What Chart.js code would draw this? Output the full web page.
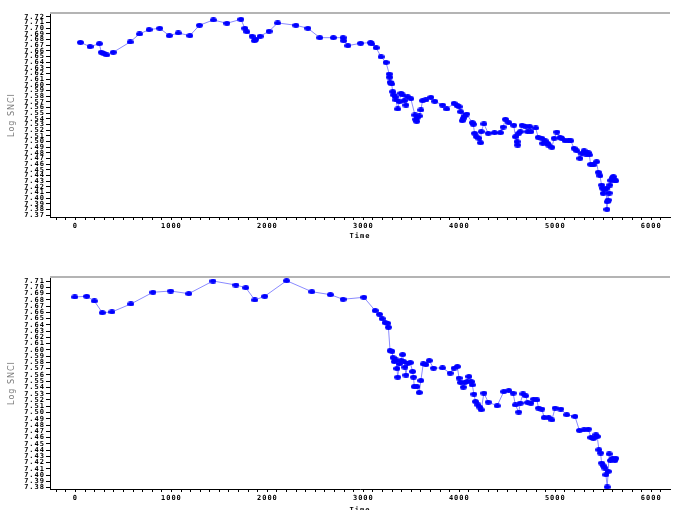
<!DOCTYPE html>
<html>
<head>
<meta charset="utf-8">
<script src="https://cdn.jsdelivr.net/npm/chart.js@4"></script>
<style>
html, body { margin: 0; padding: 0; background: #fff; overflow: hidden; }
#wrap { position: relative; width: 674px; height: 510px; }
canvas { position: absolute; left: 0; }
#topChart { top: 0; }
#bottomChart { top: 250px; }
</style>
</head>
<body>
<div id="wrap">
  <canvas id="topChart" width="674" height="250"></canvas>
  <canvas id="bottomChart" width="674" height="260"></canvas>
</div>
<script>
// Top panel: time / log value pairs
const topTime = [52,152,249,269,294,325,394,570,667,767,878,978,1071,1192,1292,1437,1578,1724,1765,1786,1841,1865,1879,1924,2017,2107,2297,2422,2546,2687,2788,2795,2839,2971,3075,3088,3133,3184,3236,3270,3274,3278,3295,3306,3316,3330,3340,3358,3375,3392,3409,3427,3444,3461,3495,3537,3547,3555,3565,3582,3599,3617,3651,3703,3744,3824,3868,3945,3979,3997,4014,4031,4041,4055,4076,4135,4145,4159,4179,4204,4221,4228,4256,4301,4366,4428,4456,4480,4515,4567,4584,4601,4608,4618,4635,4653,4687,4712,4733,4746,4795,4822,4860,4870,4894,4919,4930,4964,4988,5016,5050,5067,5101,5137,5161,5195,5223,5257,5275,5299,5319,5344,5354,5368,5396,5430,5448,5465,5482,5492,5499,5516,5534,5538,5541,5551,5561,5568,5578,5596,5605,5620,5630];
const topLog = [7.675,7.6675,7.6728,7.6576,7.6558,7.6528,7.6576,7.6758,7.690,7.6976,7.700,7.687,7.6917,7.687,7.7053,7.7147,7.7088,7.7159,7.700,7.694,7.6859,7.678,7.6806,7.6859,7.6947,7.7094,7.7053,7.700,7.6834,7.6834,7.6834,7.678,7.6693,7.6735,7.6746,7.6723,7.6657,7.6496,7.6397,7.6192,7.6134,7.6046,7.6016,7.588,7.5821,7.5791,7.5733,7.5574,7.5703,7.5851,7.5821,7.5722,7.5644,7.5791,7.5756,7.5468,7.5392,7.5355,7.5427,7.545,7.5556,7.5722,7.5733,7.578,7.571,7.5644,7.5574,7.5674,7.5627,7.5614,7.5526,7.5367,7.5409,7.545,7.5485,7.5333,7.5303,7.5144,7.5084,7.5056,7.4978,7.5173,7.5311,7.5144,7.5155,7.5155,7.5255,7.5392,7.5333,7.5286,7.5084,7.4996,7.4937,7.5144,7.5173,7.5286,7.5273,7.5173,7.5261,7.5173,7.5238,7.5073,7.5056,7.4967,7.5013,7.4967,7.4937,7.4896,7.5056,7.5167,7.5073,7.5056,7.5013,7.5013,7.5013,7.4879,7.4836,7.4702,7.4791,7.4836,7.4778,7.4801,7.4761,7.4596,7.4584,7.4642,7.4455,7.4395,7.423,7.4172,7.4083,7.4154,7.4172,7.380,7.3935,7.3965,7.4089,7.423,7.4312,7.4359,7.4377,7.4312,7.4306];

// Bottom panel
const bottomTime = [-7,117,197,280,380,577,808,992,1181,1433,1672,1775,1869,1972,2200,2463,2656,2788,3005,3123,3168,3195,3226,3254,3261,3278,3298,3309,3323,3340,3350,3358,3375,3392,3409,3420,3433,3444,3461,3489,3513,3523,3530,3558,3582,3599,3624,3651,3686,3731,3824,3904,3945,3979,3997,4014,4041,4055,4083,4100,4124,4135,4152,4169,4194,4214,4228,4256,4301,4394,4463,4515,4560,4584,4619,4635,4663,4691,4712,4746,4774,4808,4825,4860,4884,4930,4964,4998,5057,5119,5205,5251,5299,5344,5371,5396,5423,5437,5454,5472,5482,5499,5516,5527,5541,5551,5561,5575,5596,5620,5630];
const bottomLog = [7.6845,7.6856,7.6781,7.6594,7.6606,7.6733,7.692,7.694,7.6898,7.710,7.7036,7.6993,7.6797,7.6856,7.7105,7.6929,7.6882,7.6808,7.684,7.6627,7.6569,7.6499,7.6436,7.6425,7.6361,7.5988,7.5978,7.5877,7.5813,7.584,7.5702,7.5564,7.5776,7.5829,7.5925,7.5813,7.5724,7.5597,7.5787,7.5797,7.5654,7.5564,7.5414,7.5414,7.5319,7.551,7.5776,7.5765,7.5829,7.5708,7.5713,7.5628,7.5708,7.5734,7.5549,7.5478,7.5405,7.5478,7.5494,7.5574,7.5494,7.5441,7.5293,7.5175,7.5122,7.5085,7.5043,7.5309,7.5166,7.5107,7.5334,7.535,7.5309,7.5122,7.5006,7.5149,7.5298,7.5267,7.5159,7.5149,7.5213,7.5201,7.507,7.5055,7.4918,7.4918,7.4882,7.507,7.5055,7.4964,7.4936,7.4714,7.4724,7.4735,7.4601,7.4585,7.4644,7.4617,7.4405,7.4352,7.4193,7.415,7.4113,7.4006,7.381,7.4059,7.4339,7.4233,7.4268,7.4233,7.4268];

// Tick labels
const topYTicks = [7.37,7.38,7.39,7.40,7.41,7.42,7.43,7.44,7.45,7.46,7.47,7.48,7.49,7.50,7.51,7.52,7.53,7.54,7.55,7.56,7.57,7.58,7.59,7.60,7.61,7.62,7.63,7.64,7.65,7.66,7.67,7.68,7.69,7.70,7.71,7.72];
const bottomYTicks = [7.38,7.39,7.40,7.41,7.42,7.43,7.44,7.45,7.46,7.47,7.48,7.49,7.50,7.51,7.52,7.53,7.54,7.55,7.56,7.57,7.58,7.59,7.60,7.61,7.62,7.63,7.64,7.65,7.66,7.67,7.68,7.69,7.70,7.71];
const xLabels = [0,1000,2000,3000,4000,5000,6000];
const yTitle = 'Log SNCI';
const xTitle = 'Time';

Chart.defaults.font.family = '"DejaVu Sans Mono", monospace';
Chart.defaults.font.size = 7;
Chart.defaults.font.weight = 'bold';
Chart.defaults.color = '#000';

// blue oval marker
function dotImage() {
    const c = document.createElement('canvas');
    c.width = 7; c.height = 5;
    const g = c.getContext('2d');
    g.fillStyle = '#0000ff';
    g.beginPath();
    g.ellipse(3.5, 2.5, 3.5, 2.5, 0, 0, Math.PI * 2);
    g.fill();
    return c;
}
const dot = dotImage();

const framePlugin = {
    id: 'frame',
    beforeDraw(chart) {
        chart.ctx.letterSpacing = '1px';
    },
    afterDraw(chart) {
        const {ctx, chartArea} = chart;
        ctx.save();
        ctx.strokeStyle = '#b4b4b4';
        ctx.lineWidth = 2;
        ctx.beginPath();
        ctx.moveTo(chartArea.left, chartArea.top);
        ctx.lineTo(chartArea.right, chartArea.top);
        ctx.stroke();
        ctx.restore();
    }
};

function makeChart(id, times, values, yTicks, o) {
    const points = times.map((t, i) => ({x: t, y: values[i]}));
    return new Chart(document.getElementById(id), {
        type: 'scatter',
        data: {
            datasets: [{
                data: points,
                showLine: true,
                borderColor: '#8a8aff',
                borderWidth: 1,
                pointStyle: dot,
                pointRadius: 3,
                pointBackgroundColor: '#0000ff',
                pointBorderWidth: 0
            }]
        },
        options: {
            responsive: false,
            animation: false,
            layout: { padding: { top: o.padTop, right: 0, left: 0, bottom: 0 } },
            plugins: { legend: { display: false }, tooltip: { enabled: false } },
            scales: {
                x: {
                    type: 'linear',
                    min: -265,
                    max: 6195,
                    afterBuildTicks: s => {
                        const list = [];
                        for (let v = -200; v <= 6100; v += 100) list.push({value: v});
                        s.ticks = list;
                    },
                    afterFit: s => { s.height = o.xHeight; },
                    ticks: {
                        autoSkip: false,
                        maxRotation: 0,
                        padding: 2,
                        callback: v => xLabels.includes(v) ? String(v) : ''
                    },
                    grid: { drawOnChartArea: false, tickLength: 3, color: '#000' },
                    border: { color: '#000', width: 1 },
                    title: {
                        display: true,
                        text: xTitle,
                        padding: { top: 0, bottom: o.titlePad }
                    }
                },
                y: {
                    min: o.yMin,
                    max: o.yMax,
                    afterBuildTicks: s => { s.ticks = yTicks.map(v => ({value: v})); },
                    afterFit: s => { s.width = 50; },
                    ticks: {
                        autoSkip: false,
                        padding: 1,
                        callback: v => v.toFixed(2)
                    },
                    grid: { drawOnChartArea: false, tickLength: 4, color: '#000' },
                    border: { color: '#000', width: 1 },
                    title: {
                        display: true,
                        text: yTitle,
                        color: '#7a7a7a',
                        font: { family: '"DejaVu Sans", sans-serif', size: 8, weight: 'normal' },
                        padding: { top: 7, bottom: 0 }
                    }
                }
            }
        },
        plugins: [framePlugin]
    });
}

makeChart('topChart', topTime, topLog, topYTicks,
    { padTop: 13, xHeight: 33, titlePad: 10, yMin: 7.3665, yMax: 7.727 });
makeChart('bottomChart', bottomTime, bottomLog, bottomYTicks,
    { padTop: 27, xHeight: 21, titlePad: -4, yMin: 7.3778, yMax: 7.7164 });
</script>
</body>
</html>
